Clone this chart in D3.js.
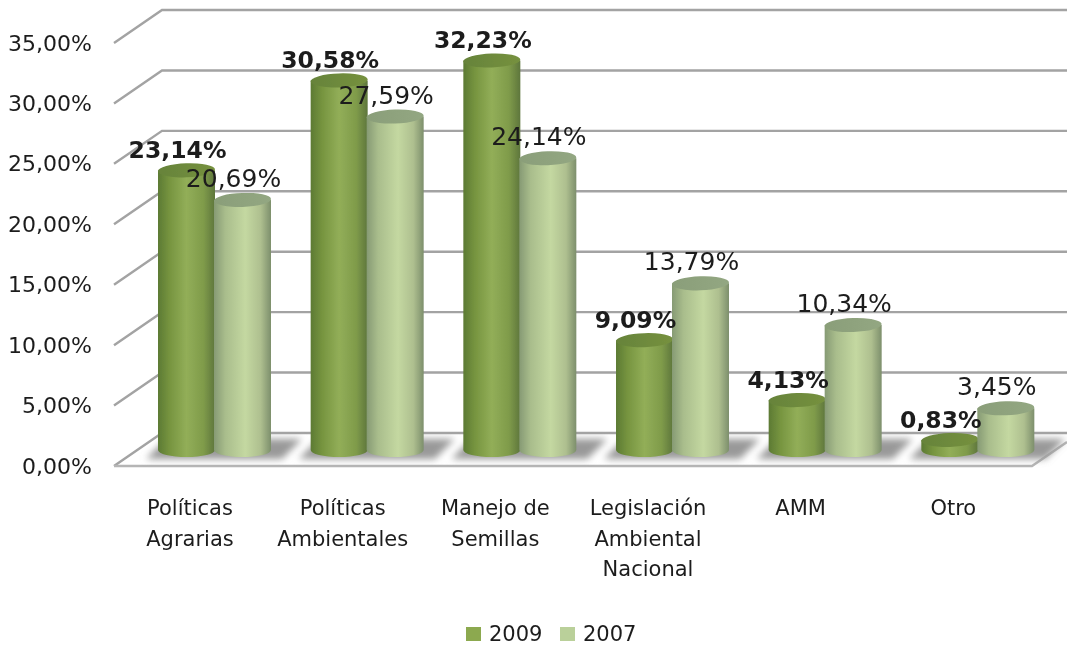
<!DOCTYPE html>
<html>
<head>
<meta charset="utf-8">
<script src="https://cdn.jsdelivr.net/npm/d3@7"></script>
<style>
  html, body { margin: 0; padding: 0; background: #fff; }
  svg { display: block; }
  text { font-family: "DejaVu Sans", sans-serif; fill: #1c1c1c; }
</style>
</head>
<body>
<svg width="1067" height="646"></svg>
<script>
const categories = [
  ["Políticas", "Agrarias"],
  ["Políticas", "Ambientales"],
  ["Manejo de", "Semillas"],
  ["Legislación", "Ambiental", "Nacional"],
  ["AMM"],
  ["Otro"]
];
const values2009 = [23.14, 30.58, 32.23, 9.09, 4.13, 0.83];
const values2007 = [20.69, 27.59, 24.14, 13.79, 10.34, 3.45];
const seriesNames = ["2009", "2007"];
const yTicks = [0, 5, 10, 15, 20, 25, 30, 35];

const FLOOR_DX = 48, FLOOR_DY = 33;
const BAR_W = 57, RY = 7;

const svg = d3.select("svg");
const defs = svg.append("defs");
const fmt = v => v.toFixed(2).replace(".", ",") + "%";

// front wall edge, the grid runs back by FLOOR_DX / FLOOR_DY
const y = d3.scaleLinear().domain([0, 35]).range([466, 43]);
// columns stand in the middle of the floor
const yBar = d3.scaleLinear().domain([0, 35]).range([450, 27]);
const x = d3.scaleBand().domain(d3.range(categories.length)).range([138, 1054]);
const xLabel = i => x(i) + 52;

function gradient(id, stops) {
  const g = defs.append("linearGradient").attr("id", id);
  stops.forEach(s => g.append("stop").attr("offset", s[0]).attr("stop-color", s[1]));
}
gradient("side2009", [[0, "#5c7a34"], [0.2, "#76943f"], [0.5, "#92ae58"], [0.8, "#7f9b4a"], [1, "#5e763c"]]);
gradient("side2007", [[0, "#869a74"], [0.2, "#a9bd8c"], [0.55, "#c4d8a1"], [0.82, "#aebf8f"], [1, "#7d8f6c"]]);
gradient("top2009", [[0, "#66833a"], [1, "#76913f"]]);
gradient("top2007", [[0, "#8a9e79"], [1, "#93a782"]]);

defs.append("filter").attr("id", "shadowBlur")
  .attr("x", "-30%").attr("y", "-60%").attr("width", "160%").attr("height", "220%")
  .append("feGaussianBlur").attr("stdDeviation", 3.5);
defs.append("filter").attr("id", "soft")
  .append("feGaussianBlur").attr("stdDeviation", 0.5);

const root = svg.append("g").attr("filter", "url(#soft)");

// walls and floor
const grid = root.append("g").attr("fill", "none").attr("stroke", "#a3a3a3").attr("stroke-width", 2.4);
yTicks.forEach(t => {
  grid.append("path").attr("d", d3.line()([
    [114, y(t)],
    [114 + FLOOR_DX, y(t) - FLOOR_DY],
    [1067, y(t) - FLOOR_DY]
  ]));
});
grid.append("path").attr("stroke", "#b5b5b5").attr("d", d3.line()([
  [114, y(0)], [1032, y(0)], [1067, y(0) - 24]
]));

// floor shadows
const shadow = root.append("g").attr("fill", "#999").attr("filter", "url(#shadowBlur)");
categories.forEach((c, i) => {
  const left = x(i) + 20;
  shadow.append("path").attr("d", d3.line()([
    [left - 12, y(0) - 7],
    [left + 8, yBar(0) - 11],
    [left + 2 * BAR_W + 30, yBar(0) - 11],
    [left + 2 * BAR_W + 10, y(0) - 7]
  ]) + "Z");
});

// one cylinder, side first and the lid over it
function column(g, left, value, key) {
  const cx = left + BAR_W / 2, top = yBar(value), base = yBar(0);
  const rx = BAR_W / 2;
  g.append("path")
    .attr("d", `M${left},${top}V${base}A${rx},${RY} 0 0 0 ${left + BAR_W},${base}V${top}Z`)
    .attr("fill", `url(#side${key})`);
  g.append("ellipse")
    .attr("cx", cx).attr("cy", top).attr("rx", rx).attr("ry", RY)
    .attr("transform", `rotate(-2 ${cx} ${top})`)
    .attr("fill", `url(#top${key})`);
}

const bars = root.append("g");
categories.forEach((c, i) => {
  column(bars, x(i) + 20, values2009[i], "2009");
  column(bars, x(i) + 20 + BAR_W - 1, values2007[i], "2007");
});

// value labels
const labels = root.append("g").attr("text-anchor", "middle");
categories.forEach((c, i) => {
  labels.append("text")
    .attr("x", x(i) + 20 + BAR_W / 2 - 9).attr("y", yBar(values2009[i]) - 12)
    .attr("font-size", 23.5).attr("font-weight", 700).text(fmt(values2009[i]));
  labels.append("text")
    .attr("x", x(i) + 20 + BAR_W * 1.5 - 10).attr("y", yBar(values2007[i]) - 13)
    .attr("font-size", 25).text(fmt(values2007[i]));
});

// y axis, the domain and tick marks are replaced by the grid
const axis = root.append("g")
  .attr("transform", "translate(92,7)")
  .call(d3.axisLeft(y).tickValues(yTicks).tickFormat(fmt).tickSize(0).tickPadding(0));
axis.select(".domain").remove();
axis.selectAll("text").attr("dy", 0).attr("font-size", 22).style("font-family", '"DejaVu Sans", sans-serif').style("fill", "#1c1c1c");

// category labels
const catLabels = root.append("g").attr("font-size", 21).attr("text-anchor", "middle");
categories.forEach((lines, i) => {
  lines.forEach((line, j) => {
    catLabels.append("text").attr("x", xLabel(i)).attr("y", 515 + j * 30.5).text(line);
  });
});

// legend
const legendX = d3.scaleOrdinal().domain(seriesNames).range([466, 560]);
const legendFill = d3.scaleOrdinal().domain(seriesNames).range(["#8ca94f", "#bad09a"]);
seriesNames.forEach(name => {
  root.append("rect").attr("x", legendX(name)).attr("y", 627)
    .attr("width", 15).attr("height", 14).attr("fill", legendFill(name));
  root.append("text").attr("x", legendX(name) + 23).attr("y", 641)
    .attr("font-size", 21).text(name);
});
</script>
</body>
</html>
